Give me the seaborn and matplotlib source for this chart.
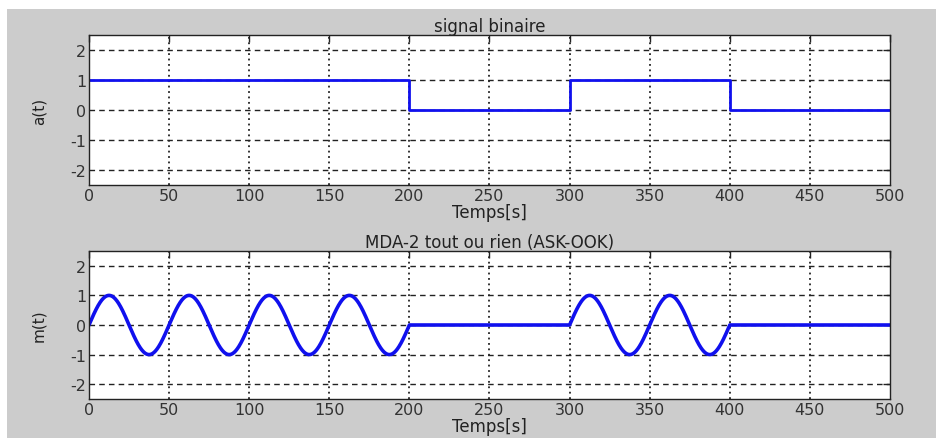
import numpy as np
import pandas as pd
import matplotlib
matplotlib.use("Agg")
import matplotlib.pyplot as plt
import seaborn as sns
from matplotlib.patches import Rectangle

# ---- data ----
bits = [1, 1, 0, 1, 0]            # binary message, one bit per 100 s
bit_duration = 100                # s
carrier_period = 50               # s (read from peaks at 12.5, 62.5, ...)
x_ticks = [0, 50, 100, 150, 200, 250, 300, 350, 400, 450, 500]
y_ticks = [-2, -1, 0, 1, 2]
title_top = "signal binaire"
title_bottom = "MDA-2 tout ou rien (ASK-OOK)"
xlabel = "Temps[s]"
ylabel_top = "a(t)"
ylabel_bottom = "m(t)"

# step signal (edges)
edges = [i * bit_duration for i in range(len(bits) + 1)]
step_vals = bits + [bits[-1]]
df_a = pd.DataFrame({"t": edges, "a": step_vals})

# modulated signal: a(t) * carrier
t = np.arange(0, len(bits) * bit_duration + 0.25, 0.25)
idx = np.minimum((t // bit_duration).astype(int), len(bits) - 1)
a_t = np.array(bits)[idx]
m_t = a_t * np.sin(2 * np.pi * t / carrier_period)
df_m = pd.DataFrame({"t": t, "m": m_t})

sns.set_theme(style="white")
plt.rcParams["font.family"] = ["DejaVu Sans"]

W, H = 937, 439
fig = plt.figure(figsize=(W / 100, H / 100), dpi=100)
fig.patch.set_facecolor("white")
fig.patches.append(Rectangle((7 / W, 0), 1 - 7 / W, 1 - 10 / H,
                             transform=fig.transFigure, facecolor="#cccccc",
                             edgecolor="none", zorder=-10))

left = 89 / W
width = (890 - 89) / W
ax1 = fig.add_axes([left, 1 - 186 / H, width, (186 - 36) / H])
ax2 = fig.add_axes([left, 1 - 400 / H, width, (400 - 252) / H])

blue = "#1010ee"
sns.lineplot(data=df_a, x="t", y="a", ax=ax1, color=blue, linewidth=2,
             drawstyle="steps-post", estimator=None)
sns.lineplot(data=df_m, x="t", y="m", ax=ax2, color=blue, linewidth=2.6,
             estimator=None)

for ax, ttl, yl in [(ax1, title_top, ylabel_top), (ax2, title_bottom, ylabel_bottom)]:
    ax.set_facecolor("white")
    ax.set_xlim(0, 500)
    ax.set_ylim(-2.5, 2.5)
    ax.set_xticks(x_ticks)
    ax.set_yticks(y_ticks)
    ax.set_xticklabels([str(v) for v in x_ticks])
    ax.set_yticklabels([str(v) for v in y_ticks])
    for s in ax.spines.values():
        s.set_visible(True)
        s.set_color("#222222")
        s.set_linewidth(1.0)
    ax.tick_params(direction="in", top=True, right=True, length=5, width=1,
                   color="#222222", labelsize=11.5, labelcolor="#333333", pad=2)
    for y in y_ticks:
        ax.axhline(y, color="#222222", linestyle=(0, (4, 3)), linewidth=1.0, zorder=0.5)
    for x in x_ticks[1:-1]:
        ax.axvline(x, color="#222222", linestyle=(0, (1, 2)), linewidth=1.3, zorder=0.5)
    ax.set_title(ttl, fontsize=12, color="#222222", pad=3)
    ax.set_xlabel(xlabel, fontsize=12, color="#222222", labelpad=0)
    ax.set_ylabel(yl, fontsize=11, color="#222222", labelpad=17)

fig.savefig("out.png", dpi=100, facecolor=fig.get_facecolor())
